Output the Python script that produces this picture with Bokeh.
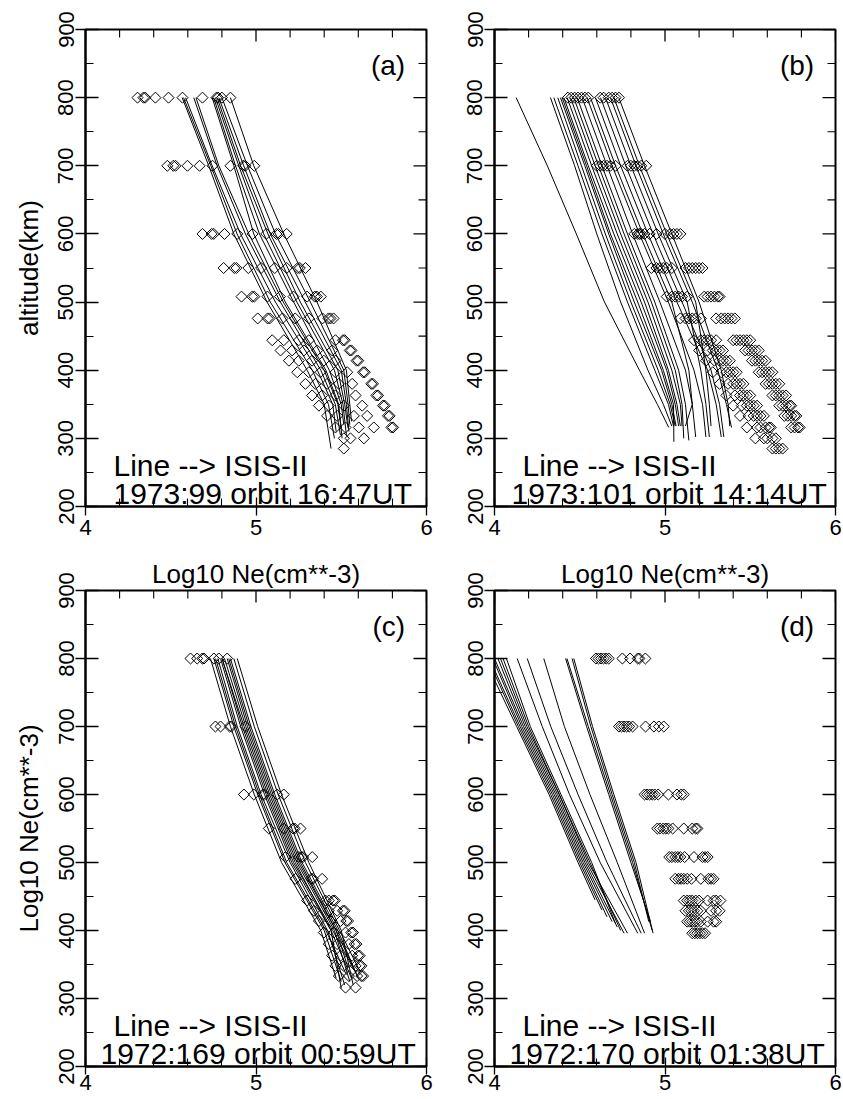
import numpy as np
from bokeh.plotting import figure
from bokeh.layouts import gridplot
from bokeh.models import FixedTicker, Range1d, Label
from bokeh.embed import file_html
from bokeh.resources import INLINE

FONT = "Liberation Sans"

# ---------------- axes ----------------
X_MAJOR = [4, 5, 6]
X_MINOR = [4.2, 4.4, 4.6, 4.8, 5.2, 5.4, 5.6, 5.8]
Y_MAJOR = [200, 300, 400, 500, 600, 700, 800, 900]
Y_MINOR = [250, 350, 450, 550, 650, 750, 850]

# ---------------- panel (a) 1973:99 ----------------
a_line_alt = [800, 700, 600, 500, 400, 350]
a_lines = [
    [4.567, 4.723, 4.870, 5.065, 5.300, 5.400],
    [4.575, 4.735, 4.889, 5.084, 5.330, 5.425],
    [4.587, 4.743, 4.909, 5.114, 5.360, 5.450],
    [4.635, 4.772, 4.938, 5.143, 5.380, 5.465],
    [4.648, 4.782, 4.958, 5.160, 5.400, 5.480],
    [4.743, 4.870, 4.987, 5.172, 5.410, 5.485],
    [4.752, 4.880, 5.020, 5.221, 5.430, 5.500],
    [4.762, 4.899, 5.045, 5.240, 5.460, 5.510],
    [4.772, 4.910, 5.070, 5.260, 5.480, 5.520],
    [4.782, 4.928, 5.084, 5.289, 5.500, 5.530],
    [4.800, 4.950, 5.114, 5.319, 5.515, 5.540],
    [4.850, 4.987, 5.163, 5.358, 5.530, 5.550],
]
a_line_end_alt = [285, 300, 310, 305, 315, 300, 320, 305, 315, 310, 320, 325]
a_line_end_x = [5.440, 5.460, 5.470, 5.495, 5.500, 5.505, 5.515, 5.530, 5.540, 5.545, 5.550, 5.560]

a_dia_alt = [800, 700, 600, 550, 508, 476, 444, 429, 414, 397, 380, 363, 348, 333, 316, 300, 285]
a_dia_x = [
    [4.305, 4.340, 4.350, 4.410, 4.487, 4.569, 4.686, 4.768, 4.778, 4.800, 4.850],
    [4.480, 4.515, 4.528, 4.598, 4.669, 4.745, 4.850, 4.925, 4.937, 4.990],
    [4.686, 4.740, 4.752, 4.815, 4.890, 4.980, 5.060, 5.120, 5.132, 5.180],
    [4.810, 4.873, 4.885, 4.955, 5.030, 5.110, 5.180, 5.245, 5.257, 5.290],
    [4.915, 4.978, 4.990, 5.067, 5.140, 5.220, 5.300, 5.345, 5.357, 5.380],
    [5.010, 5.068, 5.080, 5.155, 5.230, 5.310, 5.390, 5.425, 5.437, 5.455],
    [5.095, 5.163, 5.251, 5.310, 5.466, 5.510, 5.520],
    [5.144, 5.212, 5.281, 5.359, 5.447, 5.550, 5.560],
    [5.193, 5.251, 5.329, 5.398, 5.466, 5.590, 5.600],
    [5.242, 5.310, 5.378, 5.466, 5.535, 5.628, 5.638],
    [5.290, 5.349, 5.417, 5.486, 5.564, 5.676, 5.686],
    [5.329, 5.388, 5.466, 5.584, 5.706, 5.716],
    [5.369, 5.427, 5.515, 5.623, 5.745, 5.755],
    [5.417, 5.476, 5.574, 5.652, 5.774, 5.784],
    [5.466, 5.525, 5.603, 5.691, 5.794, 5.804],
    [5.515, 5.554, 5.633],
    [5.515],
]

# ---------------- panel (b) 1973:101 ----------------
b_line_alt = [800, 700, 600, 500, 400, 350]
b_lines = [
    [4.127, 4.310, 4.480, 4.645, 4.850, 4.955],
    [4.328, 4.470, 4.600, 4.740, 4.900, 4.990],
    [4.348, 4.490, 4.630, 4.780, 4.940, 5.020],
    [4.371, 4.510, 4.650, 4.800, 4.960, 5.030],
    [4.387, 4.530, 4.670, 4.820, 4.980, 5.040],
    [4.397, 4.540, 4.680, 4.840, 4.990, 5.050],
    [4.407, 4.550, 4.700, 4.860, 5.010, 5.060],
    [4.426, 4.570, 4.720, 4.880, 5.020, 5.070],
    [4.446, 4.590, 4.740, 4.900, 5.040, 5.090],
    [4.465, 4.610, 4.760, 4.920, 5.060, 5.100],
    [4.485, 4.630, 4.780, 4.940, 5.080, 5.120],
    [4.514, 4.660, 4.810, 4.970, 5.120, 5.160],
    [4.543, 4.690, 4.850, 5.020, 5.170, 5.220],
    [4.563, 4.710, 4.870, 5.040, 5.140, 5.160],
    [4.592, 4.740, 4.900, 5.070, 5.250, 5.300],
    [4.622, 4.770, 4.930, 5.100, 5.270, 5.320],
    [4.651, 4.800, 4.960, 5.130, 5.210, 5.240],
    [4.680, 4.830, 4.990, 5.160, 5.310, 5.360],
    [4.700, 4.850, 5.010, 5.180, 5.240, 5.260],
    [4.729, 4.880, 5.040, 5.200, 5.330, 5.370],
]
b_line_end_alt = [316, 318, 318, 318, 318, 295, 318, 318, 318, 300, 297, 302, 302, 318, 302, 302, 302, 316, 318, 318]
b_line_end_x = [5.022, 5.040, 5.050, 5.060, 5.065, 5.052, 5.080, 5.090, 5.100, 5.110, 5.140, 5.180,
                5.240, 5.120, 5.330, 5.345, 5.260, 5.390, 5.270, 5.380]

b_dia_alt = [800, 700, 600, 550, 508, 476, 444, 429, 414, 397, 380, 363, 348, 333, 316, 300, 285]
b_dia_x = [
    [4.43, 4.45, 4.47, 4.49, 4.51, 4.53, 4.55, 4.62, 4.64, 4.67, 4.69, 4.71, 4.73],
    [4.60, 4.62, 4.64, 4.66, 4.68, 4.71, 4.78, 4.80, 4.82, 4.84, 4.86, 4.89],
    [4.82, 4.84, 4.85, 4.86, 4.88, 4.91, 4.95, 5.00, 5.03, 5.05, 5.07, 5.09],
    [4.92, 4.95, 4.97, 4.99, 5.01, 5.04, 5.12, 5.14, 5.16, 5.18, 5.20, 5.22],
    [5.01, 5.04, 5.06, 5.08, 5.10, 5.13, 5.23, 5.25, 5.27, 5.29, 5.31, 5.32],
    [5.09, 5.12, 5.14, 5.16, 5.18, 5.21, 5.30, 5.33, 5.35, 5.37, 5.39, 5.41],
    [5.17, 5.21, 5.23, 5.25, 5.27, 5.30, 5.40, 5.42, 5.44, 5.46, 5.48, 5.50],
    [5.20, 5.25, 5.28, 5.30, 5.32, 5.34, 5.47, 5.49, 5.51, 5.53, 5.55],
    [5.24, 5.29, 5.32, 5.34, 5.36, 5.38, 5.51, 5.53, 5.55, 5.57, 5.59],
    [5.28, 5.33, 5.36, 5.38, 5.40, 5.42, 5.55, 5.57, 5.59, 5.61, 5.63],
    [5.32, 5.37, 5.40, 5.42, 5.44, 5.46, 5.59, 5.61, 5.63, 5.65, 5.67],
    [5.36, 5.41, 5.44, 5.46, 5.48, 5.50, 5.63, 5.65, 5.67, 5.69, 5.71],
    [5.40, 5.45, 5.48, 5.50, 5.52, 5.54, 5.67, 5.69, 5.71, 5.73, 5.74],
    [5.44, 5.49, 5.52, 5.54, 5.56, 5.58, 5.70, 5.72, 5.74, 5.76, 5.77],
    [5.48, 5.54, 5.56, 5.59, 5.61, 5.62, 5.74, 5.76, 5.78, 5.79],
    [5.53, 5.58, 5.60, 5.63, 5.65],
    [5.63, 5.65, 5.67, 5.69],
]

# ---------------- panel (c) 1972:169 ----------------
c_line_alt = [800, 700, 600, 500, 400]
c_lines = [
    [4.733, 4.850, 4.990, 5.150, 5.380],
    [4.753, 4.870, 5.010, 5.170, 5.400],
    [4.763, 4.880, 5.020, 5.180, 5.410],
    [4.776, 4.890, 5.030, 5.200, 5.420],
    [4.792, 4.910, 5.050, 5.210, 5.440],
    [4.802, 4.920, 5.060, 5.220, 5.450],
    [4.815, 4.940, 5.080, 5.240, 5.460],
    [4.831, 4.950, 5.090, 5.250, 5.470],
    [4.850, 4.970, 5.110, 5.270, 5.480],
    [4.870, 4.990, 5.130, 5.290, 5.490],
    [4.890, 5.010, 5.150, 5.310, 5.500],
    [4.800, 4.930, 5.070, 5.230, 5.440],
    [4.840, 4.960, 5.100, 5.260, 5.470],
]
c_line_end_alt = [330, 325, 335, 320, 330, 340, 325, 335, 330, 340, 320, 315, 345]
c_line_end_x = [5.47, 5.50, 5.53, 5.52, 5.56, 5.58, 5.55, 5.59, 5.60, 5.61, 5.57, 5.50, 5.54]

c_dia_alt = [800, 700, 600, 550, 508, 476, 444, 429, 414, 397, 380, 363, 348, 333, 316]
c_dia_x = [
    [4.616, 4.655, 4.685, 4.695, 4.753, 4.782, 4.831],
    [4.762, 4.792, 4.845, 4.855, 4.938],
    [4.929, 4.987, 5.040, 5.050, 5.124, 5.163],
    [5.075, 5.163, 5.217, 5.227, 5.261],
    [5.173, 5.251, 5.266, 5.276, 5.330],
    [5.232, 5.324, 5.334, 5.388],
    [5.300, 5.408, 5.427, 5.452, 5.462],
    [5.340, 5.427, 5.476, 5.510, 5.520],
    [5.369, 5.437, 5.496, 5.530, 5.540],
    [5.398, 5.457, 5.525, 5.559, 5.569],
    [5.427, 5.476, 5.545, 5.579, 5.589],
    [5.447, 5.496, 5.564, 5.598, 5.608],
    [5.466, 5.515, 5.584, 5.608, 5.618],
    [5.486, 5.545, 5.593, 5.618, 5.628],
    [5.525, 5.584],
]

# ---------------- panel (d) 1972:170 ----------------
d_line_alt = [800, 700, 600, 500]
d_lines = [
    [3.940, 4.130, 4.320, 4.490],
    [3.960, 4.140, 4.330, 4.500],
    [3.970, 4.150, 4.340, 4.510],
    [3.990, 4.160, 4.350, 4.520],
    [4.000, 4.170, 4.360, 4.530],
    [4.020, 4.180, 4.370, 4.540],
    [4.035, 4.190, 4.380, 4.550],
    [4.050, 4.200, 4.380, 4.560],
    [4.070, 4.210, 4.390, 4.570],
    [4.133, 4.280, 4.440, 4.620],
    [4.192, 4.330, 4.490, 4.660],
    [4.289, 4.410, 4.560, 4.720],
    [4.417, 4.540, 4.670, 4.800],
    [4.425, 4.550, 4.680, 4.810],
    [4.455, 4.565, 4.690, 4.820],
    [4.465, 4.575, 4.700, 4.830],
]
d_line_end_alt = [445, 430, 420, 413, 405, 396, 396, 400, 410, 396, 396, 396, 413, 400, 413, 396]
d_line_end_x = [4.59, 4.63, 4.66, 4.69, 4.72, 4.76, 4.78, 4.74, 4.71, 4.84, 4.86, 4.88, 4.915, 4.925, 4.905, 4.93]

d_dia_alt = [800, 700, 600, 550, 508, 476, 444, 429, 413, 396]
d_dia_x = [
    [4.595, 4.610, 4.625, 4.640, 4.655, 4.670, 4.750, 4.795, 4.840, 4.850, 4.885],
    [4.730, 4.745, 4.760, 4.775, 4.790, 4.810, 4.886, 4.935, 4.964, 4.993],
    [4.880, 4.895, 4.910, 4.925, 4.940, 4.960, 5.020, 5.070, 5.095, 5.110],
    [4.955, 4.970, 4.990, 5.005, 5.020, 5.045, 5.110, 5.160, 5.180, 5.190],
    [5.025, 5.040, 5.060, 5.075, 5.090, 5.115, 5.170, 5.220, 5.235, 5.250],
    [5.060, 5.080, 5.095, 5.110, 5.130, 5.155, 5.210, 5.255, 5.270, 5.285],
    [5.110, 5.130, 5.145, 5.160, 5.180, 5.200, 5.250, 5.285, 5.300, 5.325],
    [5.120, 5.140, 5.155, 5.170, 5.190, 5.210, 5.270, 5.300, 5.320],
    [5.130, 5.145, 5.160, 5.175, 5.190, 5.210, 5.250, 5.285, 5.300],
    [5.160, 5.175, 5.190, 5.205, 5.220, 5.235],
]

# ---------------- texts ----------------
panel_tags = ["(a)", "(b)", "(c)", "(d)"]
line_note = "Line --> ISIS-II"
orbit_notes = ["1973:99 orbit 16:47UT", "1973:101 orbit 14:14UT",
               "1972:169 orbit 00:59UT", "1972:170 orbit 01:38UT"]
orbit_note_x = [4.164, 4.100, 4.088, 4.088]
x_title = "Log10 Ne(cm**-3)"
y_titles = ["altitude(km)", None, "Log10 Ne(cm**-3)", None]

FW = 341


def make_fig(idx, fh, lb, rb, tb, bb, title, xtick_out):
    p = figure(x_range=Range1d(4, 6), y_range=Range1d(200, 900),
               frame_width=FW, frame_height=fh,
               min_border_left=lb, min_border_right=rb,
               min_border_top=tb, min_border_bottom=bb,
               output_backend="svg", toolbar_location=None,
               title=title)
    p.grid.visible = False
    p.outline_line_color = "black"
    p.outline_line_width = 2
    p.background_fill_color = "white"
    p.border_fill_color = "white"
    if title is not None:
        p.title.align = "center"
        p.title.text_font = FONT
        p.title.text_font_size = "26px"
        p.title.text_font_style = "normal"
        p.title.text_color = "black"
        p.title.standoff = 4

    xa = p.xaxis[0]
    xa.ticker = FixedTicker(ticks=X_MAJOR, minor_ticks=X_MINOR)
    xa.major_tick_in = 9
    xa.major_tick_out = xtick_out
    xa.minor_tick_in = 8
    xa.minor_tick_out = 0
    xa.axis_line_width = 2
    xa.major_tick_line_width = 1.3
    xa.minor_tick_line_width = 1.1
    xa.major_label_text_font = FONT
    xa.major_label_text_font_size = "22px"
    xa.major_label_text_color = "black"
    xa.major_label_standoff = 4 if idx < 2 else 0

    ya = p.yaxis[0]
    ya.ticker = FixedTicker(ticks=Y_MAJOR, minor_ticks=Y_MINOR)
    ya.major_tick_in = 13
    ya.major_tick_out = 10
    ya.minor_tick_in = 8
    ya.minor_tick_out = 0
    ya.axis_line_width = 2
    ya.major_tick_line_width = 1.3
    ya.minor_tick_line_width = 1.1
    ya.major_label_text_font = FONT
    ya.major_label_text_font_size = "22px"
    ya.major_label_text_color = "black"
    ya.major_label_orientation = "vertical"
    ya.major_label_standoff = 2
    if y_titles[idx] is not None:
        ya.axis_label = y_titles[idx]
        ya.axis_label_text_font = FONT
        ya.axis_label_text_font_size = "26px"
        ya.axis_label_text_font_style = "normal"
        ya.axis_label_text_color = "black"
        ya.axis_label_standoff = 12

    # inward ticks on the top and right frame edges, taken from the same tick lists
    p.ray(x=X_MAJOR, y=[900] * len(X_MAJOR), length=12, length_units="screen",
          angle=-np.pi / 2, line_color="black", line_width=1.3)
    p.ray(x=X_MINOR, y=[900] * len(X_MINOR), length=8, length_units="screen",
          angle=-np.pi / 2, line_color="black", line_width=1.1)
    p.ray(x=[6] * len(Y_MAJOR), y=Y_MAJOR, length=13, length_units="screen",
          angle=np.pi, line_color="black", line_width=1.3)
    p.ray(x=[6] * len(Y_MINOR), y=Y_MINOR, length=8, length_units="screen",
          angle=np.pi, line_color="black", line_width=1.1)
    return p


def draw(p, idx, line_alt, lines, end_alt, end_x, dia_alt, dia_x):
    xs, ys = [], []
    for k, row in enumerate(lines):
        xs.append(list(row) + [end_x[k]])
        ys.append(list(line_alt) + [end_alt[k]])
    p.multi_line(xs, ys, line_color="black", line_width=1)
    px, py = [], []
    for alt, row in zip(dia_alt, dia_x):
        for v in row:
            px.append(v)
            py.append(alt)
    p.scatter(px, py, marker="square", angle=np.pi / 4, size=7.8,
              fill_color=None, line_color="black", line_width=1)
    p.add_layout(Label(x=5.875, y=847, text=panel_tags[idx], text_align="right",
                       text_baseline="middle", text_font=FONT, text_font_size="28px",
                       text_color="black"))
    p.add_layout(Label(x=4.164, y=260, text=line_note, text_align="left",
                       text_baseline="alphabetic", text_font=FONT, text_font_size="30px",
                       text_color="black"))
    p.add_layout(Label(x=orbit_note_x[idx], y=219, text=orbit_notes[idx], text_align="left",
                       text_baseline="alphabetic", text_font=FONT, text_font_size="30px",
                       text_color="black"))


# top row: frame 29..506 ; bottom row: frame 590..1066
pa = make_fig(0, 477, 85, 20, 29, 38, None, 9)
pb = make_fig(1, 477, 48, 8, 29, 38, None, 9)
pc = make_fig(2, 476, 85, 20, 46, 33, x_title, 8)
pd = make_fig(3, 476, 48, 8, 46, 33, x_title, 8)

draw(pa, 0, a_line_alt, a_lines, a_line_end_alt, a_line_end_x, a_dia_alt, a_dia_x)
draw(pb, 1, b_line_alt, b_lines, b_line_end_alt, b_line_end_x, b_dia_alt, b_dia_x)
draw(pc, 2, c_line_alt, c_lines, c_line_end_alt, c_line_end_x, c_dia_alt, c_dia_x)
draw(pd, 3, d_line_alt, d_lines, d_line_end_alt, d_line_end_x, d_dia_alt, d_dia_x)

grid = gridplot([[pa, pb], [pc, pd]], toolbar_location=None)

open("out.html", "w").write(file_html(grid, INLINE))
